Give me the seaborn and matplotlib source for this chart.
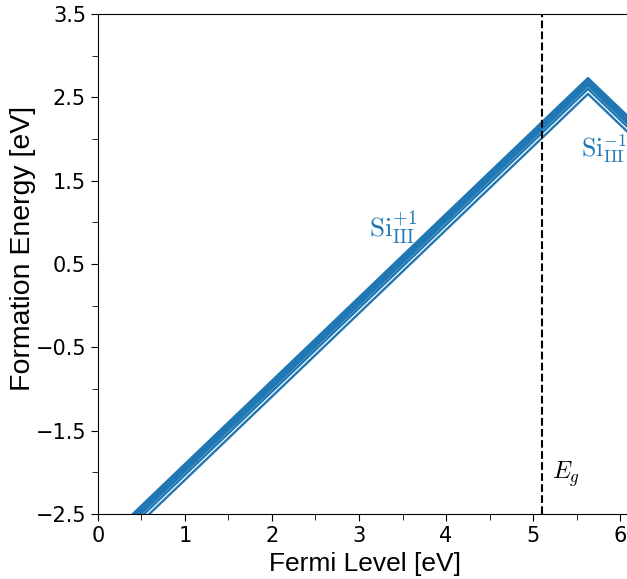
import numpy as np
import pandas as pd
import matplotlib
matplotlib.use("Agg")
import matplotlib.pyplot as plt
import seaborn as sns

BLUE = "#1f77b4"

# formation energy at E_F = 0 for each Si_III configuration, per charge state
e0_plus = [-2.90, -2.92, -2.94, -2.96, -2.99, -3.03, -3.09]
e0_minus = [8.36, 8.34, 8.32, 8.30, 8.27, 8.23, 8.17]
fermi_edges = [0.0, 6.1]
band_gap = 5.1

rows = []
for i, (ep, em) in enumerate(zip(e0_plus, e0_minus)):
    cross = (em - ep) / 2.0
    for x in [fermi_edges[0], cross, fermi_edges[1]]:
        rows.append({"config": i, "fermi": x, "energy": min(ep + x, em - x)})
df = pd.DataFrame(rows)

sns.set_style("ticks")
plt.rcParams["mathtext.fontset"] = "cm"
plt.rcParams["axes.unicode_minus"] = True
plt.rcParams["text.color"] = "black"
plt.rcParams["axes.labelcolor"] = "black"
plt.rcParams["xtick.color"] = "black"
plt.rcParams["ytick.color"] = "black"

fig = plt.figure(figsize=(6.27, 5.79), dpi=100)
ax = fig.add_axes([0.156, 0.112, 0.847, 0.864])

sns.lineplot(data=df, x="fermi", y="energy", hue="config",
             palette=[BLUE] * len(e0_plus), lw=1.7, legend=False,
             sort=False, ax=ax)

ax.axvline(band_gap, color="black", ls="--", lw=1.5)

ax.text(3.12, 0.93, r"$\mathrm{Si}_{\mathrm{III}}^{+1}$", color=BLUE,
        fontsize=19.5, ha="left", va="center")
ax.text(5.55, 1.89, r"$\mathrm{Si}_{\mathrm{III}}^{-1}$", color=BLUE,
        fontsize=18.5, ha="left", va="center")
ax.text(5.22, -2.02, r"$E_g$", color="black", fontsize=17.5,
        ha="left", va="center")

ax.set_xlim(0, 6.1)
ax.set_ylim(-2.5, 3.5)
ax.set_xticks(np.arange(0, 7, 1))
ax.set_xticks(np.arange(0.5, 6.5, 1), minor=True)
ax.set_yticks(np.arange(-2.5, 3.6, 1))
ax.set_yticks(np.arange(-2.0, 3.1, 1), minor=True)
ax.tick_params(which="major", labelsize=15, length=5, direction="out",
               colors="black")
ax.tick_params(which="minor", length=4, direction="out", colors="black")
ax.yaxis.set_major_formatter(matplotlib.ticker.FuncFormatter(
    lambda v, p: f"{v:.1f}".replace("-", "\u2212")))
ax.set_xlabel("Fermi Level [eV]", fontsize=19, family="Liberation Sans",
              color="black")
ax.set_ylabel("Formation Energy [eV]", fontsize=20.5, family="Liberation Sans",
              color="black")
ax.xaxis.set_label_coords(0.5 * (459 + 272 - 2 * 98) / (0.847 * 627), -0.075)
ax.yaxis.set_label_coords(-0.117, 0.532)
for spine in ax.spines.values():
    spine.set_visible(True)
    spine.set_color("black")
    spine.set_linewidth(0.8)

fig.savefig("out.png", dpi=100)
